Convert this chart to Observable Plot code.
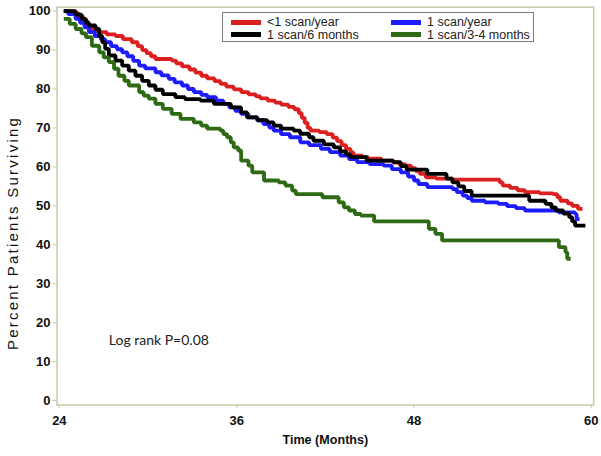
<!DOCTYPE html>
<html>
<head>
<meta charset="utf-8">
<script src="https://cdn.jsdelivr.net/npm/d3@7"></script>
<script src="https://cdn.jsdelivr.net/npm/@observablehq/plot@0.6"></script>
<style>
  html, body { margin: 0; padding: 0; background: #fff; }
  #wrap { position: relative; width: 601px; height: 456px; }
  #legend {
    position: absolute; left: 222px; top: 12px; width: 310px; height: 28px;
    border: 1.5px solid #7a7a7a; background: #fff;
    font-family: "Liberation Sans", Arial, sans-serif; font-size: 12.5px; color: #222;
  }
  .item { position: absolute; display: flex; align-items: center; height: 13px; }
  .sw { width: 30px; height: 5px; margin-right: 6px; }
</style>
</head>
<body>
<div id="wrap"></div>
<script>
// ---- data ----
const seriesNames = ["<1 scan/year", "1 scan/year", "1 scan/6 months", "1 scan/3-4 months"];
const seriesColors = ["#dc2020", "#1c1cff", "#000000", "#2e6a14"];

const redMonths = [24.3,24.9,25.3,25.6,25.9,26.1,26.6,27.2,27.8,28.3,28.9,29.3,29.6,29.9,30.2,30.5,31.6,31.9,32.3,32.8,33.2,33.6,34.0,34.5,34.9,35.3,35.8,36.3,36.8,37.3,37.6,38.1,38.6,39.0,39.5,39.9,40.2,40.4,40.6,40.8,41.0,41.6,42.1,42.5,42.8,43.1,43.4,43.7,43.9,44.5,44.9,45.8,46.6,47.0,47.4,47.8,48.1,48.4,48.8,49.5,50.6,53.8,54.0,54.5,55.0,55.5,56.5,57.4,57.7,57.9,58.4,58.7,59.1,59.4];
const redPct    = [100,99.5,98.7,97.5,96.3,95.4,94.6,94.0,93.6,92.8,92.0,91.0,90.0,89.2,88.4,87.7,87.3,86.6,85.8,85.0,84.2,83.4,82.7,82.0,81.3,80.6,79.9,79.2,78.6,78.1,77.6,77.0,76.5,76.0,75.4,74.8,73.8,72.6,71.3,70.0,69.3,68.9,68.4,67.5,66.6,65.6,64.6,63.7,62.9,62.5,62.1,61.6,61.1,60.7,60.3,59.7,59.0,58.2,57.3,57.0,56.7,56.0,55.2,54.6,54.0,53.5,53.2,53.0,52.2,51.3,50.6,50.0,49.2,49.2];

const blueMonths = [24.3,24.6,25.1,25.4,25.7,26.0,26.4,26.8,27.1,27.5,27.9,28.25,28.6,29.0,29.4,29.8,30.5,30.9,31.4,31.8,32.3,32.7,33.1,33.6,34.0,34.6,35.1,35.5,35.9,36.3,36.8,37.4,37.8,38.2,38.5,39.0,39.6,40.3,40.9,41.7,42.3,43.0,43.6,44.15,45.0,45.95,46.5,47.1,47.6,48.0,48.3,48.9,50.6,50.9,51.3,51.6,51.9,52.8,53.7,54.3,54.9,55.5,57.8,58.9,59.0,59.2];
const bluePct    = [100,99.2,98.0,97.0,95.8,94.6,93.6,92.8,92.0,91.0,90.2,89.4,88.4,87.2,86.0,85.3,84.3,83.5,82.6,81.7,80.9,80.0,79.2,78.5,77.9,77.0,76.2,75.3,74.4,73.6,72.7,71.9,71.0,70.1,69.3,68.4,67.6,66.3,65.6,64.6,63.8,62.9,62.0,61.2,60.7,60.3,59.4,58.6,57.5,56.5,55.6,54.8,54.3,53.5,52.6,52.0,51.3,50.9,50.5,49.9,49.4,48.8,48.3,47.9,46.6,46.6];

const blackMonths = [24.3,25.1,25.5,25.8,26.0,26.45,26.7,26.9,27.1,27.35,27.8,28.25,28.7,29.15,29.6,30.05,30.5,31.0,31.85,32.5,33.55,34.45,35.6,36.3,36.7,37.4,38.07,38.5,39.0,39.86,40.3,40.9,41.2,41.9,42.57,43.0,43.4,43.7,44.8,46.6,47.1,47.5,48.9,50.2,50.6,51.0,51.4,51.9,55.8,56.9,57.3,57.6,58.1,58.5,58.7,58.9,59.6];
const blackPct    = [100,99.1,98.0,97.0,96.3,95.4,93.6,92.0,90.3,88.6,87.3,86.0,84.7,83.4,82.1,80.9,79.8,78.7,77.9,77.4,77.0,76.2,75.3,74.0,72.7,72.0,71.4,70.6,69.8,69.3,68.5,67.6,66.7,65.8,65.0,64.0,63.2,62.5,61.6,61.2,60.2,59.3,58.2,57.0,56.0,55.0,53.8,52.6,51.3,50.5,49.6,48.8,48.0,47.1,46.0,44.9,44.9];

const greenMonths = [24.3,24.7,25.1,25.5,25.8,26.2,26.7,27.0,27.35,27.7,28.0,28.4,28.7,29.4,29.7,30.05,30.5,31.0,31.6,32.2,33.1,33.6,34.0,34.9,35.1,35.35,35.6,35.8,36.1,36.3,36.8,37.05,37.85,38.85,39.3,39.75,40.0,41.8,42.9,43.25,43.6,44.0,44.4,45.3,49.0,49.45,49.9,57.8,58.25,58.37,58.6];
const greenPct    = [98.0,96.7,95.4,94.3,93.3,91.1,89.4,88.1,86.9,85.2,83.4,82.1,80.9,79.2,78.3,77.5,76.2,74.9,73.6,72.3,71.4,70.6,69.8,69.3,68.4,67.6,66.3,65.0,64.2,61.6,60.3,58.6,56.5,56.0,55.2,53.9,53.0,52.2,50.9,49.6,48.8,47.9,47.5,46.0,44.1,42.8,41.1,39.4,38.1,36.4,36.4];

const xTicks = [24, 36, 48, 60];
const yTicks = [0, 10, 20, 30, 40, 50, 60, 70, 80, 90, 100];
const xTitle = "Time (Months)";
const yTitle = "Percent Patients Surviving";
const annotation = "Log rank P=0.08";

// ---- build table ----
const allMonths = [redMonths, blueMonths, blackMonths, greenMonths];
const allPct = [redPct, bluePct, blackPct, greenPct];
const rows = [];
allMonths.forEach((ms, i) => ms.forEach((m, j) => rows.push({series: seriesNames[i], month: m, pct: allPct[i][j]})));

const frameColor = "#c9c9a9";

const chart = Plot.plot({
  width: 601,
  height: 456,
  marginLeft: 56.5,
  marginRight: 7.8,
  marginTop: 6.7,
  marginBottom: 51.5,
  style: {fontFamily: "'Liberation Sans', Arial, sans-serif", fontSize: "13px", color: "#111", background: "#fff"},
  x: {domain: [23.84, 60.16]},
  y: {domain: [-1.15, 101]},
  color: {domain: seriesNames, range: seriesColors},
  marks: [
    Plot.frame({stroke: frameColor, strokeWidth: 1.5}),
    Plot.axisY({ticks: yTicks, tickSize: 4, tickPadding: 2.5, stroke: frameColor, fill: "#111", fontWeight: "bold", fontSize: 13, label: null}),
    Plot.axisX({ticks: xTicks, tickSize: 4, tickPadding: 7, stroke: frameColor, fill: "#111", fontWeight: "bold", fontSize: 13, label: null}),
    Plot.line(rows, {x: "month", y: "pct", z: "series", stroke: "series", strokeWidth: 3.8, curve: "step-after", strokeLinejoin: "miter", strokeLinecap: "butt"}),
    Plot.text([annotation], {frameAnchor: "bottom-left", dx: 51.8, dy: -64.5, textAnchor: "start", lineAnchor: "middle", fontFamily: "Lato, 'Open Sans', sans-serif", fontSize: 14, fill: "#222"}),
    Plot.text([xTitle], {frameAnchor: "bottom", dy: 34.5, lineAnchor: "middle", fontWeight: "bold", fontSize: 12.6, fill: "#111"}),
    Plot.text([yTitle], {frameAnchor: "left", dx: -43.5, dy: 144, rotate: -90, textAnchor: "start", lineAnchor: "middle", fontSize: 15, fill: "#111", className: "ytitle"})
  ]
});

const wrap = document.getElementById("wrap");
wrap.appendChild(chart);

// stretch y title to its span in the reference
d3.select(chart).selectAll(".ytitle text").attr("textLength", 232).attr("lengthAdjust", "spacing");

// ---- legend (inside plot area) ----
const legend = document.createElement("div");
legend.id = "legend";
const legendPos = [
  {left: 8, top: 2.5}, {left: 168, top: 2.5},
  {left: 8, top: 15}, {left: 168, top: 15}
];
seriesNames.forEach((name, i) => {
  const item = document.createElement("div");
  item.className = "item";
  item.style.left = legendPos[i].left + "px";
  item.style.top = legendPos[i].top + "px";
  const sw = document.createElement("span");
  sw.className = "sw";
  sw.style.background = seriesColors[i];
  const tx = document.createElement("span");
  tx.textContent = name;
  item.appendChild(sw);
  item.appendChild(tx);
  legend.appendChild(item);
});
wrap.appendChild(legend);
</script>
</body>
</html>
